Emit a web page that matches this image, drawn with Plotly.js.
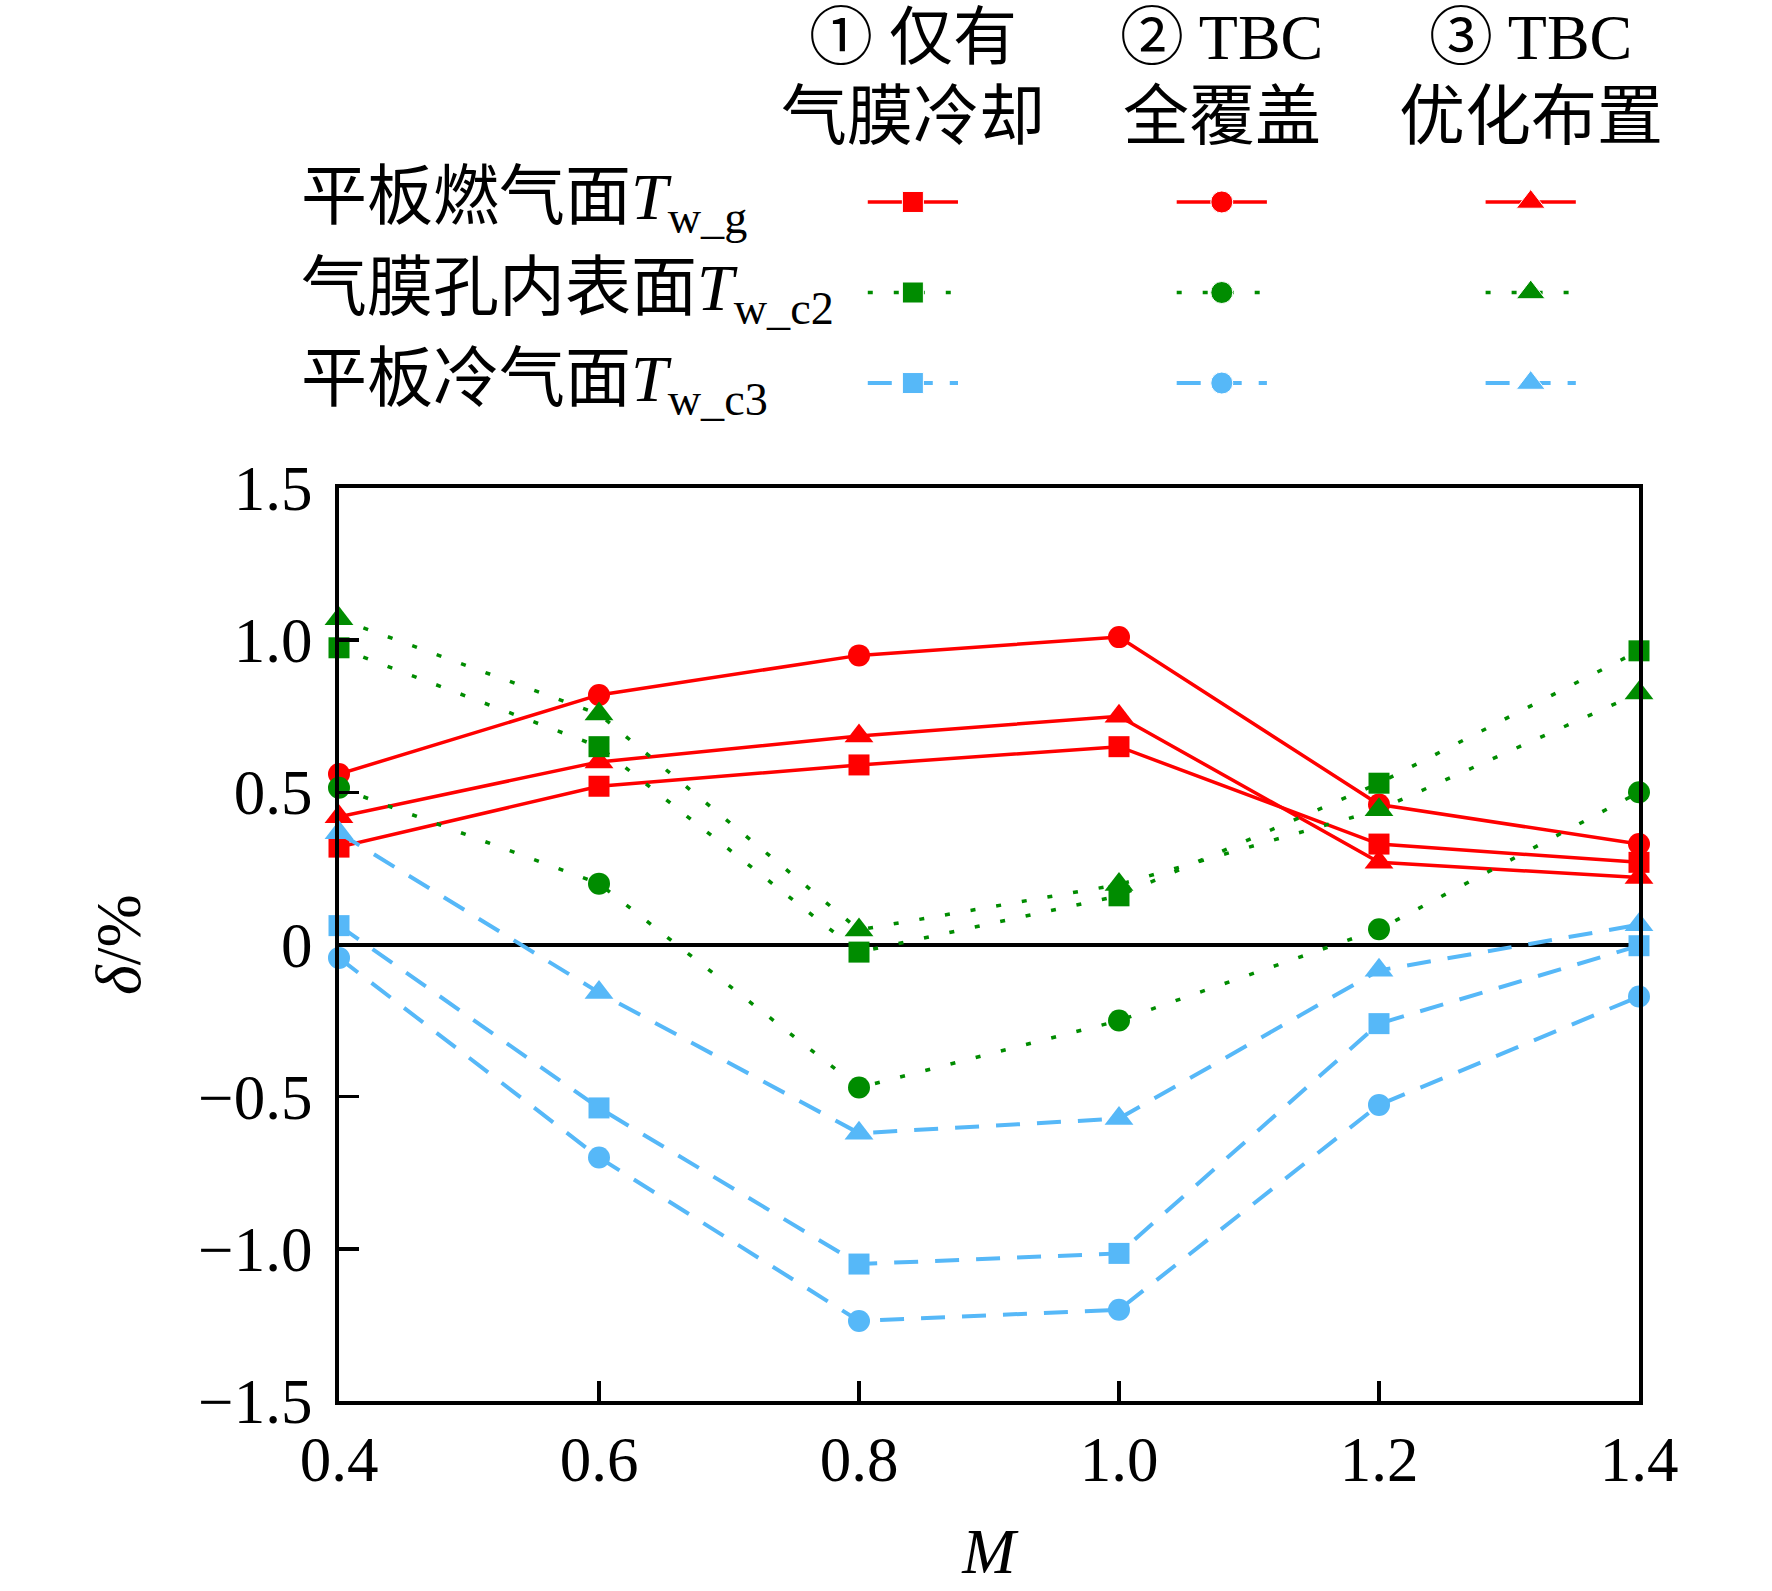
<!DOCTYPE html>
<html>
<head>
<meta charset="utf-8">
<script src="https://cdn.plot.ly/plotly-3.0.1.min.js"></script>
<style>
  html, body { margin: 0; padding: 0; background: #fff; }
  #chart { width: 1772px; height: 1591px; }
</style>
</head>
<body>
<div id="chart"></div>
<script>
// blowing ratio M on the x axis
const M = [0.4, 0.6, 0.8, 1.0, 1.2, 1.4];

// column headers (cases, two lines each) and row labels (surfaces) of the key
const caseTop = ['① 仅有', '② TBC', '③ TBC'];
const caseBottom = ['气膜冷却', '全覆盖', '优化布置'];
const surfaceLabels = [
  '平板燃气面<i>T</i><sub>w_g</sub>',
  '气膜孔内表面<i>T</i><sub>w_c2</sub>',
  '平板冷气面<i>T</i><sub>w_c3</sub>'
];

// delta / %, gas-side plate surface T_w_g
const twgFilm = [0.32, 0.52, 0.59, 0.65, 0.33, 0.27];
const twgFull = [0.56, 0.82, 0.95, 1.01, 0.46, 0.33];
const twgOpt  = [0.42, 0.60, 0.685, 0.75, 0.27, 0.22];

// film hole inner surface T_w_c2
const twc2Film = [0.975, 0.65, -0.025, 0.16, 0.53, 0.965];
const twc2Full = [0.515, 0.20, -0.47, -0.25, 0.05, 0.50];
const twc2Opt  = [1.07, 0.757, 0.048, 0.197, 0.443, 0.826];

// coolant-side plate surface T_w_c3
const twc3Film = [0.062, -0.537, -1.05, -1.015, -0.26, -0.004];
const twc3Full = [-0.044, -0.70, -1.237, -1.20, -0.527, -0.171];
const twc3Opt  = [0.367, -0.158, -0.62, -0.572, -0.085, 0.065];

const xTicks = [0.4, 0.6, 0.8, 1.0, 1.2, 1.4];
const xTickText = ['0.4', '0.6', '0.8', '1.0', '1.2', '1.4'];
const yTicks = [-1.5, -1.0, -0.5, 0, 0.5, 1.0, 1.5];
const yTickText = ['\u22121.5', '\u22121.0', '\u22120.5', '0', '0.5', '1.0', '1.5'];

const series = [
  [twgFilm, twgFull, twgOpt],
  [twc2Film, twc2Full, twc2Opt],
  [twc3Film, twc3Full, twc3Opt]
];

const surfaceStyle = [
  { color: '#ff0000', dash: 'solid', width: 3.5 },
  { color: '#008c00', dash: '5px,21px', width: 3.5 },
  { color: '#56b8f8', dash: '24px,17px', width: 4 }
];
const caseSymbol = ['square', 'circle', 'triangle-up'];
const caseSize = [21, 22, 25];

const FONT = '"Liberation Serif", "Times New Roman", "Noto Sans CJK SC", serif';
const keyHalf = 0.146; // half length of a key sample line, in key-axis units

const traces = [];

// main curves
series.forEach((group, i) => {
  group.forEach((vals, j) => {
    traces.push({
      x: M, y: vals,
      type: 'scatter', mode: 'lines+markers',
      line: { color: surfaceStyle[i].color, dash: surfaceStyle[i].dash, width: surfaceStyle[i].width },
      marker: { symbol: caseSymbol[j], size: caseSize[j], color: surfaceStyle[i].color, opacity: 1 },
      cliponaxis: false, showlegend: false, hoverinfo: 'x+y'
    });
  });
});

// key samples, drawn on their own hidden axes (row = surface, column = case)
surfaceLabels.forEach((_, i) => {
  caseTop.forEach((_, j) => {
    traces.push({
      x: [j - keyHalf, j, j + keyHalf], y: [i, i, i],
      xaxis: 'x2', yaxis: 'y2',
      type: 'scatter', mode: 'lines+markers',
      line: { color: surfaceStyle[i].color, dash: surfaceStyle[i].dash, width: surfaceStyle[i].width },
      marker: { symbol: caseSymbol[j], size: [0, caseSize[j], 0], color: surfaceStyle[i].color, opacity: 1 },
      cliponaxis: false, showlegend: false, hoverinfo: 'skip'
    });
  });
});

const annotations = [];
caseTop.forEach((txt, j) => {
  annotations.push({
    text: txt, xref: 'x2', yref: 'paper', x: j, y: 1,
    xanchor: 'center', yanchor: 'top', showarrow: false,
    font: { family: FONT, size: 64, color: '#000' }
  });
});
caseBottom.forEach((txt, j) => {
  annotations.push({
    text: txt, xref: 'x2', yref: 'paper', x: j, y: 0.927,
    xanchor: 'center', yanchor: 'middle', showarrow: false,
    font: { family: FONT, size: 66, color: '#000' }
  });
});
surfaceLabels.forEach((txt, i) => {
  annotations.push({
    text: txt, xref: 'paper', yref: 'y2', x: 0.169, y: i,
    xanchor: 'left', yanchor: 'middle', showarrow: false,
    font: { family: FONT, size: 66, color: '#000' }
  });
});

const axisCommon = {
  showgrid: false, showline: true, linecolor: '#000', linewidth: 4, mirror: true,
  ticks: 'inside', ticklen: 20, tickwidth: 3.5, tickcolor: '#000',
  tickfont: { family: FONT, size: 63, color: '#000' }
};

const layout = {
  width: 1772, height: 1591,
  margin: { l: 0, r: 0, t: 0, b: 0 },
  paper_bgcolor: '#fff', plot_bgcolor: '#fff',
  font: { family: FONT, color: '#000' },
  showlegend: false,
  xaxis: Object.assign({}, axisCommon, {
    domain: [339 / 1772, 1639 / 1772],
    range: [0.4, 1.4], tickvals: xTicks, ticktext: xTickText,
    zeroline: false,
    title: { text: '<i>M</i>', font: { family: FONT, size: 64 }, standoff: 36 }
  }),
  yaxis: Object.assign({}, axisCommon, {
    domain: [1 - 1401 / 1591, 1 - 488 / 1591],
    range: [-1.5, 1.5], tickvals: yTicks, ticktext: yTickText,
    ticklabelstandoff: 10,
    zeroline: true, zerolinecolor: '#000', zerolinewidth: 4,
    title: { text: '<i>δ</i>/%', font: { family: FONT, size: 64 }, standoff: 38 }
  }),
  xaxis2: {
    domain: [0.428, 0.951], range: [-0.5, 2.5], anchor: 'y2',
    visible: false, fixedrange: true
  },
  yaxis2: {
    domain: [0.7308, 0.9015], range: [2.5, -0.5], anchor: 'x2',
    visible: false, fixedrange: true
  },
  annotations: annotations
};

Plotly.newPlot('chart', traces, layout, { displayModeBar: false, staticPlot: true });
</script>
</body>
</html>
